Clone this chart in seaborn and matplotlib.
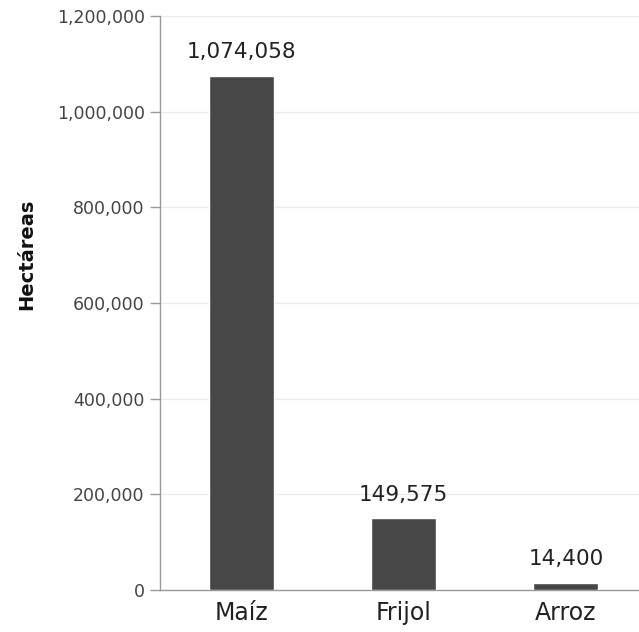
import matplotlib
matplotlib.use("Agg")
import matplotlib.pyplot as plt
import seaborn as sns
import pandas as pd

cultivos = ["Maíz", "Frijol", "Arroz"]
hectareas = [1074058, 149575, 14400]
y_ticks = [0, 200000, 400000, 600000, 800000, 1000000, 1200000]

sns.set_theme(style="white")
plt.rcParams["font.family"] = ["DejaVu Sans"]

df = pd.DataFrame({"cultivo": cultivos, "hectareas": hectareas})

fig = plt.figure(figsize=(6.39, 6.32), dpi=100)
ax = fig.add_axes([160 / 639, 42 / 632, 1 - 160 / 639, 574 / 632])

sns.barplot(data=df, x="cultivo", y="hectareas", color="#474747",
            saturation=1, width=0.4, ax=ax, zorder=3)

# value labels above each bar
for i, v in enumerate(hectareas):
    ax.annotate(f"{v:,}", (i, v), xytext=(0, 10), textcoords="offset points",
                ha="center", va="bottom", fontsize=15.5, color="#222222")

ax.set_ylim(0, 1200000)
ax.set_xlim(-0.5, 2.45)
ax.set_yticks(y_ticks)
ax.set_yticklabels([f"{t:,}" for t in y_ticks])
ax.yaxis.grid(True, color="#ebebeb", linewidth=0.9, zorder=0)
ax.set_axisbelow(True)

for s in ["top", "right"]:
    ax.spines[s].set_visible(False)
for s in ["left", "bottom"]:
    ax.spines[s].set_color("#9a9a9a")
    ax.spines[s].set_linewidth(1.0)

ax.tick_params(axis="y", length=7, width=1, color="#9a9a9a",
               labelsize=12.5, labelcolor="#444444", left=True, pad=4)
ax.tick_params(axis="x", length=0, labelsize=17, labelcolor="#222222", pad=8)

ax.set_xlabel("")
ax.set_ylabel("Hectáreas", fontsize=14, fontweight="bold", color="#111111")
ax.yaxis.set_label_coords(-0.258, 0.584)

fig.savefig("out.png", dpi=100)
